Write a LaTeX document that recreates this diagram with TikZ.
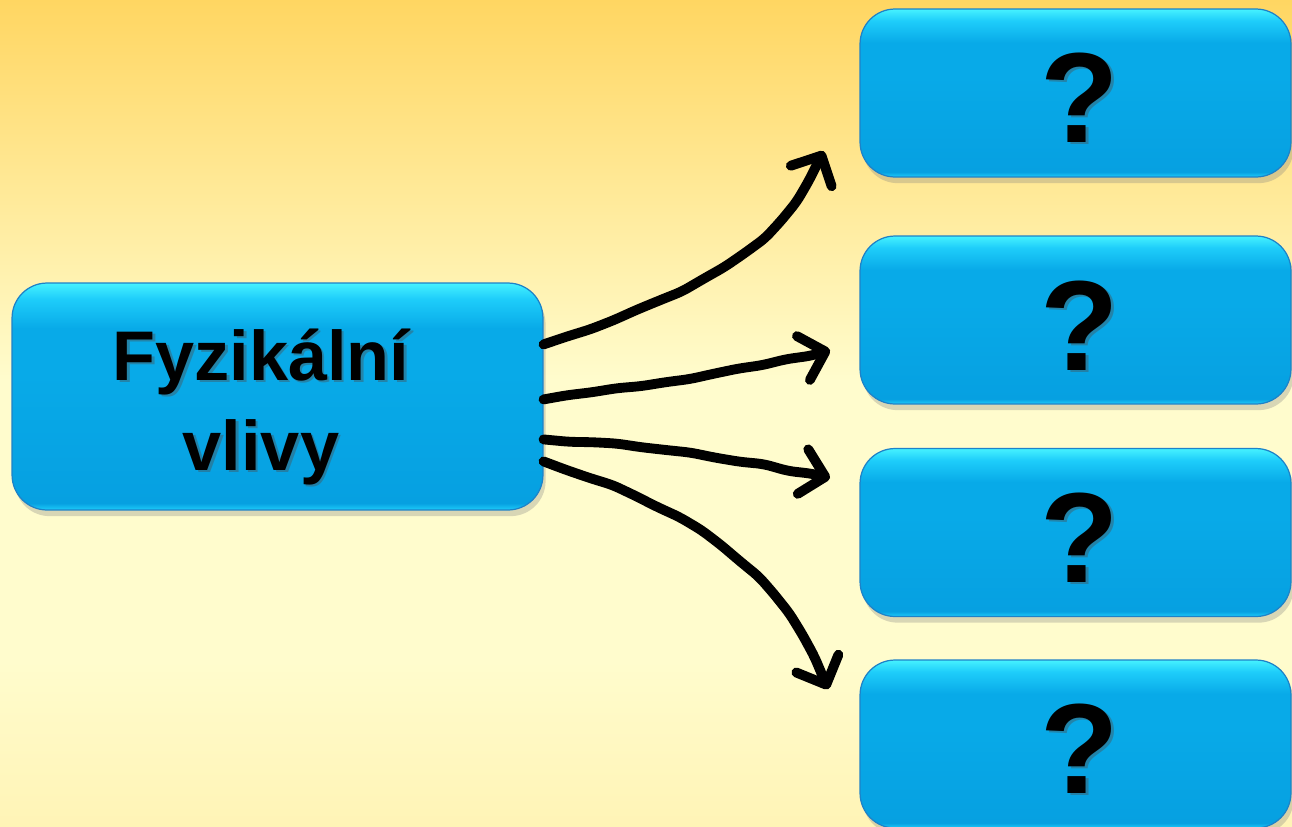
\documentclass[tikz,border=0pt]{standalone}
\usepackage{fontspec}
\setmainfont{Liberation Sans}
\usetikzlibrary{arrows.meta,shadows,calc,decorations.pathmorphing}
\definecolor{boxblue}{RGB}{8,170,232}
\definecolor{boxdark}{RGB}{6,160,225}
\definecolor{boxmid}{RGB}{30,205,250}
\definecolor{boxtop}{RGB}{70,242,255}
\definecolor{boxedge}{RGB}{30,130,200}
\definecolor{bgtop}{RGB}{255,214,98}
\definecolor{bgpale}{RGB}{255,252,205}
\definecolor{bgbot}{RGB}{255,244,182}
\pgfdeclareverticalshading{bgshade}{100bp}{color(0bp)=(bgbot); color(25bp)=(bgbot); color(35bp)=(bgpale); color(52bp)=(bgpale); color(75bp)=(bgtop); color(100bp)=(bgtop)}
\pgfdeclareverticalshading{boxshade}{100bp}{color(0bp)=(boxmid); color(25bp)=(boxmid); color(26.5bp)=(boxdark); color(55bp)=(boxblue); color(65bp)=(boxblue); color(71.5bp)=(boxmid); color(75bp)=(boxtop); color(100bp)=(boxtop)}
\tikzset{
  bluebox/.style={draw=boxedge, line width=0.7pt, shading=boxshade, rounded corners=0.7cm,
    drop shadow={opacity=0.3, shadow xshift=1.5pt, shadow yshift=-3.5pt}},
  bigbox/.style={bluebox, minimum width=10.62cm, minimum height=4.54cm},
  qbox/.style={bluebox, minimum width=8.62cm, minimum height=3.36cm},
  lbl/.style={font=\bfseries\fontsize{40}{51}\selectfont, text=black, anchor=base, inner sep=0pt},
  lblsh/.style={lbl, text=black!70, text opacity=0.4},
  qm/.style={font=\bfseries\fontsize{73}{80}\selectfont, text=black, anchor=base, inner sep=0pt},
  qmsh/.style={qm, text=black!70, text opacity=0.4},
  wire/.style={line width=5.6pt, line cap=round, line join=round, black,
    decorate, decoration={random steps, segment length=14pt, amplitude=0.7pt},
    rounded corners=4pt,
    -{Straight Barb[length=13pt, width=26pt, line cap=round, line join=round]}}
}
\begin{document}
\begin{tikzpicture}[x=0.02cm, y=-0.02cm]
\pgfmathsetseed{7}
\path[use as bounding box, shading=bgshade] (0,0) rectangle (1292,826);
\begin{scope}
\clip (0,0) rectangle (1292,826);
% boxes
\node[bigbox] (main) at (277.5,396.5) {};
\node[qbox] (q1) at (1075.5,93) {};
\node[qbox] (q2) at (1075.5,320) {};
\node[qbox] (q3) at (1075.5,532.5) {};
\node[qbox] (q4) at (1075.5,744) {};
% labels
\node[lblsh] (t1s) at (263.5,382.5) {Fyzikální};
\node[lblsh] (t2s) at (263.5,472.5) {vlivy};
\node[lbl] (t1) at (261,380) {Fyzikální};
\node[lbl] (t2) at (261,470) {vlivy};
\node[qmsh] (m1s) at (1082.5,144.5) {?};
\node[qm] (m1) at (1080,142) {?};
\node[qmsh] (m2s) at (1082.5,372.5) {?};
\node[qm] (m2) at (1080,370) {?};
\node[qmsh] (m3s) at (1082.5,584.5) {?};
\node[qm] (m3) at (1080,582) {?};
\node[qmsh] (m4s) at (1082.5,795.5) {?};
\node[qm] (m4) at (1080,793) {?};
% arrow ends
\coordinate (e1) at (821,150);
\coordinate (e2) at (830,350);
\coordinate (e3) at (830,478);
\coordinate (e4) at (826,690);
\draw[wire] ($(main.north east)+(0,62)$) .. controls (680,300) and (790,250) .. (e1);
\draw[wire] ($(main.north east)+(0,117)$) .. controls (650,385) and (740,372) .. (e2);
\draw[wire] ($(main.north east)+(0,157)$) .. controls (650,445) and (740,460) .. (e3);
\draw[wire] ($(main.north east)+(0,179)$) .. controls (680,505) and (790,570) .. (e4);
\end{scope}
\end{tikzpicture}
\end{document}
